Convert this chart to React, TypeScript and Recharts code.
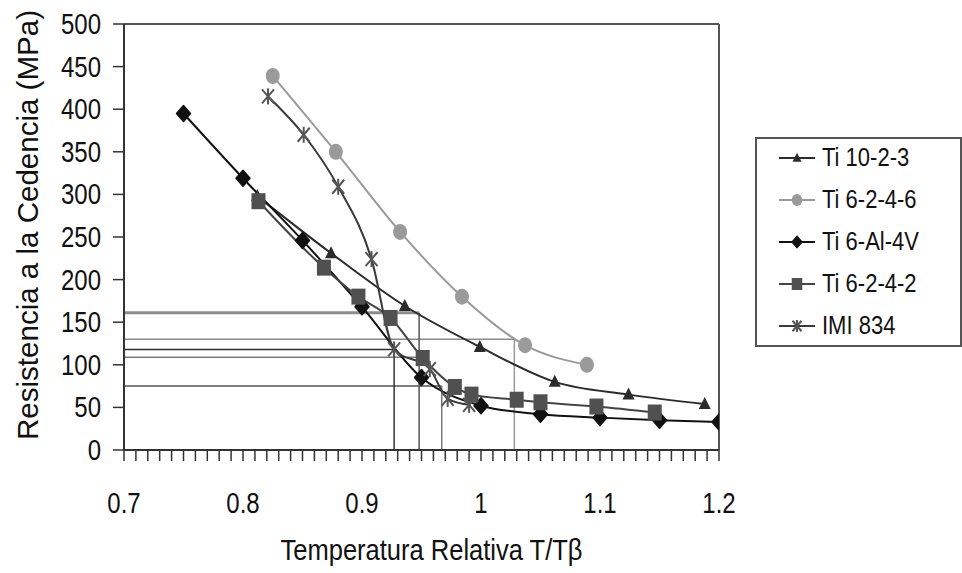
import React from "react";
import { LineChart, Line, XAxis, YAxis, ReferenceLine, Legend, Label } from "recharts";

// T/Tβ and yield strength (MPa)
const ti1023X = [0.812, 0.874, 0.936, 0.999, 1.062, 1.124, 1.188];
const ti1023Y = [298, 231, 169, 121, 80, 65, 54];

const ti6246X = [0.825, 0.878, 0.932, 0.984, 1.037, 1.089];
const ti6246Y = [439, 350, 256, 180, 123, 100];

const ti64X = [0.75, 0.8, 0.85, 0.9, 0.95, 1.0, 1.05, 1.1, 1.15, 1.2];
const ti64Y = [395, 319, 246, 168, 85, 52, 42, 38, 35, 33];

const ti6242X = [0.813, 0.868, 0.897, 0.924, 0.951, 0.978, 0.992, 1.03, 1.05, 1.097, 1.146];
const ti6242Y = [292, 214, 180, 155, 108, 74, 65, 59, 56, 51, 44];

const imi834X = [0.821, 0.851, 0.88, 0.908, 0.927, 0.957, 0.972, 0.99];
const imi834Y = [415, 370, 309, 224, 118, 95, 60, 53];

// guide lines: horizontal ones run from the axis to a curve, vertical ones drop to the axis
const guideHY = [161, 130, 118, 109, 75];
const guideHEnd = [0.948, 1.028, 0.927, 0.948, 0.967];
const guideVX = [0.927, 0.948, 0.967, 1.028];
const guideVTop = [118, 161, 75, 130];

const xLabels = [0.7, 0.8, 0.9, 1, 1.1, 1.2];
const yTicks = [0, 50, 100, 150, 200, 250, 300, 350, 400, 450, 500];
const xMinor = Array.from({ length: 51 }, (_, i) => Math.round((0.7 + i * 0.01) * 100) / 100);

const zip = (xs: number[], ys: number[]) => xs.map((x, i) => ({ x, y: ys[i] }));

const FONT = "Liberation Sans, Arial, sans-serif";

type Shape = "triangle" | "circle" | "diamond" | "square" | "star";

const series: { name: string; data: { x: number; y: number }[]; stroke: string; fill: string; shape: Shape }[] = [
  { name: "Ti 10-2-3", data: zip(ti1023X, ti1023Y), stroke: "#2b2b2b", fill: "#2b2b2b", shape: "triangle" },
  { name: "Ti 6-2-4-6", data: zip(ti6246X, ti6246Y), stroke: "#9a9a9a", fill: "#9a9a9a", shape: "circle" },
  { name: "Ti 6-Al-4V", data: zip(ti64X, ti64Y), stroke: "#111", fill: "#111", shape: "diamond" },
  { name: "Ti 6-2-4-2", data: zip(ti6242X, ti6242Y), stroke: "#444", fill: "#505050", shape: "square" },
  { name: "IMI 834", data: zip(imi834X, imi834Y), stroke: "#3a3a3a", fill: "#555", shape: "star" },
];

const hStyle = [
  { c: "#8c8c8c", w: 3 },
  { c: "#8a8a8a", w: 1.5 },
  { c: "#2e2e2e", w: 1.5 },
  { c: "#7a7a7a", w: 1.5 },
  { c: "#555", w: 1.5 },
];
const vStyle = ["#333", "#555", "#777", "#999"];

function Marker({ cx, cy, shape, fill, s = 1 }: { cx: number; cy: number; shape: Shape; fill: string; s?: number }) {
  if (cx == null || cy == null) return null;
  switch (shape) {
    case "triangle":
      return <polygon points={`${cx},${cy - 7 * s} ${cx - 6 * s},${cy + 5 * s} ${cx + 6 * s},${cy + 5 * s}`} fill={fill} />;
    case "circle":
      return <ellipse cx={cx} cy={cy} rx={7 * s} ry={8 * s} fill={fill} />;
    case "diamond":
      return (
        <polygon
          points={`${cx},${cy - 8 * s} ${cx + 7 * s},${cy} ${cx},${cy + 8 * s} ${cx - 7 * s},${cy}`}
          fill={fill}
          stroke={fill}
          strokeWidth={1.5 * s}
          strokeLinejoin="round"
        />
      );
    case "square":
      return <rect x={cx - 7 * s} y={cy - 8 * s} width={14 * s} height={16 * s} fill={fill} />;
    default:
      return (
        <g stroke={fill} strokeWidth={2}>
          <line x1={cx - 6 * s} y1={cy - 7 * s} x2={cx + 6 * s} y2={cy + 7 * s} />
          <line x1={cx - 6 * s} y1={cy + 7 * s} x2={cx + 6 * s} y2={cy - 7 * s} />
          <line x1={cx} y1={cy - 8 * s} x2={cx} y2={cy + 8 * s} />
        </g>
      );
  }
}

// tall, slightly narrow glyphs like the scanned figure
function TallText({ x, y, size, children, anchor = "middle", sy = 1.25 }: any) {
  return (
    <text
      x={0}
      y={0}
      transform={`translate(${x} ${y}) scale(1 ${sy})`}
      textAnchor={anchor}
      fontSize={size}
      fill="#111"
      fontFamily={FONT}
    >
      {children}
    </text>
  );
}

function XTick({ x, y, payload }: any) {
  const v = payload?.value;
  if (!xLabels.some(l => Math.abs(l - v) < 1e-6)) return null;
  return <TallText x={x} y={y + 50} size={24}>{String(v)}</TallText>;
}

function YTick({ x, y, payload }: any) {
  return <TallText x={x} y={y + 10} size={24} anchor="end">{String(payload.value)}</TallText>;
}

function LegendBox() {
  return (
    <div style={{ width: 203, height: 206, border: "2px solid #555", background: "#fff", boxSizing: "content-box", fontFamily: FONT }}>
      {series.map((s, i) => (
        <div key={s.name} style={{ position: "absolute", left: 22, top: 6 + i * 42, height: 30, display: "flex", alignItems: "center" }}>
          <svg width={40} height={20} style={{ marginRight: 5 }}>
            <line x1={2} y1={10} x2={38} y2={10} stroke={s.stroke} strokeWidth={2} />
            <Marker cx={20} cy={10} shape={s.shape} fill={s.fill} s={0.75} />
          </svg>
          <span style={{ fontSize: 22, color: "#111", whiteSpace: "nowrap", display: "inline-block", transform: "scaleY(1.2)" }}>{s.name}</span>
        </div>
      ))}
    </div>
  );
}

export default function App() {
  return (
    <div style={{ position: "absolute", left: 0, top: 0, background: "#fff" }}>
      <LineChart width={962} height={573} margin={{ top: 24, right: 243, bottom: 0, left: 0 }}>
        <XAxis
          type="number"
          dataKey="x"
          domain={[0.7, 1.2]}
          ticks={xMinor}
          interval={0}
          tick={<XTick />}
          tickSize={11}
          tickLine={{ stroke: "#333", strokeWidth: 1.5 }}
          axisLine={{ stroke: "#333", strokeWidth: 2 }}
          height={123}
          allowDataOverflow
        >
          <Label
            content={({ viewBox }: any) => (
              <text
                x={viewBox.x + viewBox.width / 2 + 10}
                y={viewBox.y + 110}
                textAnchor="middle"
                fontSize={30}
                fill="#111"
                fontFamily={FONT}
                textLength={302}
                lengthAdjust="spacingAndGlyphs"
              >
                Temperatura Relativa T/Tβ
              </text>
            )}
          />
        </XAxis>
        <YAxis
          type="number"
          domain={[0, 500]}
          ticks={yTicks}
          interval={0}
          width={124}
          tickSize={11}
          tickMargin={12}
          tick={<YTick />}
          tickLine={{ stroke: "#333", strokeWidth: 1.5 }}
          axisLine={{ stroke: "#333", strokeWidth: 2 }}
        >
          <Label
            content={({ viewBox }: any) => {
              const cx = viewBox.x + 38;
              const cy = viewBox.y + viewBox.height / 2 - 12;
              return (
                <text
                  x={cx}
                  y={cy}
                  transform={`rotate(-90 ${cx} ${cy})`}
                  textAnchor="middle"
                  fontSize={30}
                  fill="#111"
                  fontFamily={FONT}
                  textLength={430}
                  lengthAdjust="spacingAndGlyphs"
                >
                  Resistencia a la Cedencia (MPa)
                </text>
              );
            }}
          />
        </YAxis>

        <ReferenceLine y={500} stroke="#555" strokeWidth={2} />
        <ReferenceLine x={1.2} stroke="#555" strokeWidth={2} />

        {guideHY.map((y, i) => (
          <ReferenceLine
            key={`h${i}`}
            segment={[{ x: 0.7, y }, { x: guideHEnd[i], y }]}
            stroke={hStyle[i].c}
            strokeWidth={hStyle[i].w}
          />
        ))}
        {guideVX.map((x, i) => (
          <ReferenceLine
            key={`v${i}`}
            segment={[{ x, y: 0 }, { x, y: guideVTop[i] }]}
            stroke={vStyle[i]}
            strokeWidth={1.5}
          />
        ))}

        {series.map(s => (
          <Line
            key={s.name}
            name={s.name}
            data={s.data}
            dataKey="y"
            type="monotone"
            stroke={s.stroke}
            strokeWidth={2}
            isAnimationActive={false}
            dot={(p: any) => <Marker key={`${s.name}-${p.index}`} cx={p.cx} cy={p.cy} shape={s.shape} fill={s.fill} />}
            activeDot={false}
          />
        ))}

        <Legend
          layout="horizontal"
          verticalAlign="middle"
          align="center"
          content={<LegendBox />}
          wrapperStyle={{ left: 755, top: 137, width: 207, height: 210 }}
        />
      </LineChart>
    </div>
  );
}
